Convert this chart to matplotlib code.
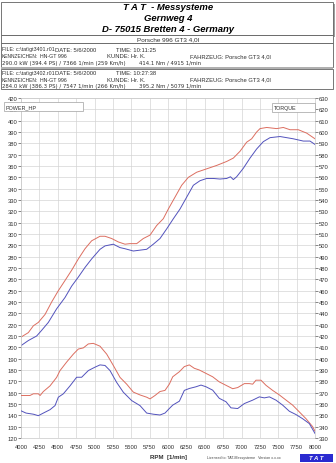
import matplotlib
matplotlib.use("Agg")
import matplotlib.pyplot as plt
from matplotlib.patches import Rectangle

plt.rcParams['font.family'] = ['Liberation Sans', 'DejaVu Sans']

# ---------------- data ----------------
rpm_pw_red = [4000, 4100, 4168, 4236, 4327, 4417, 4508, 4599, 4689, 4780, 4871, 4961, 5075, 5143,
              5234, 5324, 5415, 5483, 5574, 5664, 5755, 5846, 5936, 6004, 6095, 6186, 6277, 6390,
              6526, 6662, 6798, 6889, 6980, 7070, 7138, 7206, 7252, 7343, 7478, 7569, 7660, 7773,
              7887, 8000]
power_red = [209, 213, 219, 222, 229, 240, 250, 259, 268, 278, 287, 294, 298, 298,
             296, 293, 291, 291.5, 291.5, 296, 299, 307.5, 313.5, 322, 332.5, 343, 350, 354.5,
             357.5, 360.5, 364, 367, 373, 381, 384, 390, 393, 394, 393, 394, 392, 392,
             389, 384]

rpm_pw_blue = [4000, 4100, 4213, 4281, 4372, 4485, 4599, 4689, 4780, 4871, 4961, 5075, 5143, 5256,
               5347, 5415, 5528, 5710, 5800, 5891, 5982, 6073, 6163, 6254, 6345, 6435, 6526, 6617,
               6707, 6798, 6850, 6889, 6934, 7025, 7116, 7206, 7297, 7388, 7524, 7615, 7705, 7841,
               7932, 8000]
power_blue = [201.5, 206, 210, 215, 222, 234, 244, 254, 262, 270.5, 278, 286.5, 289.5, 291,
              288, 287, 285, 286.5, 291, 296, 304.5, 313.5, 322, 332.5, 343, 347, 349, 349,
              348.5, 349, 350.5, 348, 350.5, 358, 367, 375, 381.5, 385, 386, 385, 384, 382,
              382, 379]

rpm_tq_red = [4000, 4122, 4168, 4236, 4260, 4304, 4395, 4485, 4531, 4621, 4712, 4780, 4848, 4916,
              4984, 5075, 5166, 5256, 5347, 5438, 5528, 5619, 5710, 5755, 5823, 5891, 5959, 6018,
              6064, 6155, 6222, 6290, 6358, 6426, 6517, 6608, 6698, 6789, 6880, 6948, 7039, 7107,
              7152, 7197, 7265, 7333, 7424, 7515, 7605, 7696, 7787, 7878, 7968, 8000]
torque_red = [367.5, 367.5, 369, 369, 367.5, 371, 376, 383.5, 389.5, 397, 404, 408.5, 409.5, 413,
              413.5, 411, 404, 394, 383.5, 377.5, 370.5, 368, 366, 364.5, 367.5, 371, 372, 377.5,
              384, 388.5, 393, 394.5, 391.5, 390, 387, 384, 379.5, 376.5, 373.5, 374.5, 378, 378,
              377.5, 381, 381, 376.5, 372, 368, 363.5, 359, 353, 347, 340, 336]

rpm_tq_blue = [4000, 4068, 4168, 4236, 4304, 4395, 4463, 4508, 4576, 4667, 4757, 4825, 4916, 5007,
               5075, 5143, 5211, 5302, 5392, 5506, 5619, 5710, 5800, 5891, 5959, 6018, 6064, 6155,
               6222, 6290, 6381, 6449, 6517, 6608, 6698, 6789, 6857, 6948, 7039, 7152, 7243, 7311,
               7379, 7469, 7560, 7651, 7741, 7832, 7923, 8000]
torque_blue = [354, 352, 351, 349.7, 352, 355, 358.6, 366, 369, 376, 383.6, 383.6, 389.5, 392.5,
               394.5, 394, 389.5, 379, 370.4, 363, 358.6, 352, 351, 350.3, 352, 356, 359, 362.5,
               372, 373.7, 375.2, 376.7, 375.2, 372.2, 365, 362, 356.6, 356, 360.4, 363.4, 366.3, 365.4,
               366.3, 363.4, 359, 353.6, 350.7, 347, 342.7, 334]

x_ticks = list(range(4000, 8001, 250))
left_ticks = list(range(120, 421, 10))
right_ticks = list(range(330, 631, 10))

header_lines = ["T A T  - Messysteme", "Gernweg 4", "D- 75015 Bretten 4 - Germany"]
car_line = "Porsche 996 GT3 4,0l"
file_names = ["FILE: c:\\tat\\gt3401.r01", "FILE: c:\\tat\\gt3402.r01"]
file_dates = ["DATE: 5/6/2000", "DATE: 5/6/2000"]
file_times = ["TIME: 10:11:25", "TIME: 10:27:38"]
file_power = ["290.0 kW (394.4 PS) / 7366 1/min (259 Km/h)",
              "284.0 kW (386.3 PS) / 7547 1/min (266 Km/h)"]
file_torque = ["414.1 Nm / 4915 1/min", "395.2 Nm / 5079 1/min"]
kz_label = "KENNZEICHEN:"
kz_value = "HN-GT 996"
kunde = "KUNDE: Hr. K."
fahrzeug = "FAHRZEUG: Porsche GT3 4,0l"

RED = '#dc6e60'
BLUE = '#5252bc'
GRID = '#d4d4d4'
TXT = '#303030'

W, H = 336, 464
fig = plt.figure(figsize=(W / 100, H / 100), dpi=100)
fig.patch.set_facecolor('white')

# ---------------- main plot ----------------
L, R, T, B = 21, 315, 99, 439
ax = fig.add_axes([L / W, (H - B) / H, (R - L) / W, (B - T) / H])
ax.set_xlim(4000, 8000)
ax.set_ylim(120, 420)
ax.set_xticks(x_ticks)
ax.set_yticks(left_ticks)
ax.grid(True, color=GRID, lw=0.5)
ax.set_axisbelow(True)
for s in ax.spines.values():
    s.set_color('#c8c8c8')
    s.set_linewidth(0.5)
ax.tick_params(axis='y', direction='out', length=2, width=0.5, color='#555555',
               labelsize=4.2, pad=0.5, labelcolor=TXT)
ax.tick_params(axis='x', length=0, labelsize=4.2, pad=4, labelcolor=TXT)

ax.plot(rpm_pw_red, power_red, color=RED, lw=0.7)
ax.plot(rpm_pw_blue, power_blue, color=BLUE, lw=0.7)

ax2 = ax.twinx()
ax2.set_ylim(330, 630)
ax2.set_yticks(right_ticks)
for s in ax2.spines.values():
    s.set_visible(False)
ax2.tick_params(axis='y', direction='out', length=2, width=0.5, color='#555555',
                labelsize=4.2, pad=0.5, labelcolor=TXT)
ax2.plot(rpm_tq_red, torque_red, color=RED, lw=0.7)
ax2.plot(rpm_tq_blue, torque_blue, color=BLUE, lw=0.7)

# ---------------- overlay in pixel coordinates ----------------
ov = fig.add_axes([0, 0, 1, 1], zorder=5)
ov.set_xlim(0, W)
ov.set_ylim(H, 0)
ov.axis('off')
ov.patch.set_alpha(0)

def box(x0, y0, x1, y1, ec='#606060', lw=0.6, fc='white', shadow=False):
    if shadow:
        ov.add_patch(Rectangle((x0 + 2, y0 + 2), x1 - x0, y1 - y0, fc='#a0a0a0', ec='none'))
    ov.add_patch(Rectangle((x0, y0), x1 - x0, y1 - y0, fc=fc, ec=ec, lw=lw))

box(1, 2.5, 333, 35.5, shadow=True)
box(1, 35.5, 333, 44)
box(1, 44, 333, 68)
ov.add_patch(Rectangle((1, 67.5), 332, 2, fc='#b0b0b0', ec='none'))
box(1, 69.5, 333, 90)

for y, t in zip([8, 18.5, 29], header_lines):
    ov.text(168, y, t, ha='center', va='center', fontsize=6.8, fontweight='bold',
            fontstyle='italic', color='black')
ov.text(168, 39.8, car_line, ha='center', va='center', fontsize=4.6, color=TXT)

FS = 4.2
WIDE = ['DejaVu Sans']
for i, y0 in enumerate([50, 73.5]):
    ov.text(1.5, y0, file_names[i], ha='left', va='center', fontsize=3.8, color=TXT)
    ov.text(55, y0, file_dates[i], ha='left', va='center', fontsize=FS, color=TXT)
    ov.text(116, y0, file_times[i], ha='left', va='center', fontsize=FS, color=TXT)
    ov.text(1.5, y0 + 6.5, kz_label, ha='left', va='center', fontsize=3.5, color=TXT)
    ov.text(40, y0 + 6.5, kz_value, ha='left', va='center', fontsize=3.8, color=TXT)
    ov.text(107, y0 + 6.5, kunde, ha='left', va='center', fontsize=FS, color=TXT)
    ov.text(190, y0 + 6.5, fahrzeug, ha='left', va='center', fontsize=FS, color=TXT)
    ov.text(1.5, y0 + 13, file_power[i], ha='left', va='center', fontsize=3.9, color=TXT,
            family=WIDE)
    ov.text(139, y0 + 13, file_torque[i], ha='left', va='center', fontsize=3.9, color=TXT,
            family=WIDE)

# legend boxes
box(4, 103, 83, 112, ec='#a0a0a0', lw=0.5)
ov.text(6, 107.5, "POWER_HP", ha='left', va='center', fontsize=3.9, color=TXT)
box(272, 104, 315, 112.5, ec='#a0a0a0', lw=0.5)
ov.text(274, 108.3, "TORQUE", ha='left', va='center', fontsize=3.9, color=TXT)

# footer
ov.text(169, 458, "RPM  [1/min]", ha='center', va='center', fontsize=4.4,
        fontweight='bold', color=TXT)
ov.text(207, 458, "Licensed to: TAT-Messysteme   Version x.x.xx", ha='left', va='center',
        fontsize=2.6, color='#404040')
ov.add_patch(Rectangle((300, 455), 33, 8, fc='#2a2ad0', ec='none'))
ov.text(316.5, 459, "T A T", ha='center', va='center', fontsize=4.3, fontweight='bold',
        fontstyle='italic', color='white')

fig.savefig("out.png", dpi=100, facecolor='white')
